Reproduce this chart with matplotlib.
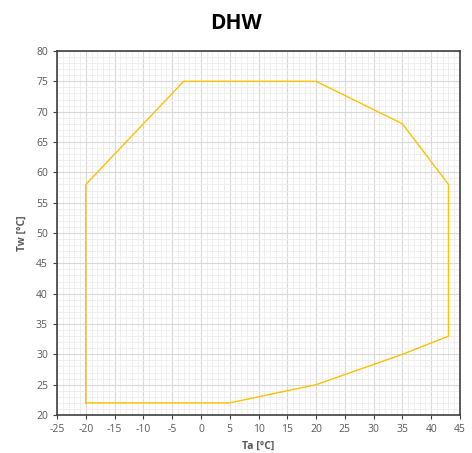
import matplotlib
matplotlib.use("Agg")
import matplotlib.pyplot as plt
from matplotlib.ticker import MultipleLocator

ta = [-20, 5, 20, 35, 43, 43, 35, 20, -3, -20, -20]
tw = [22, 22, 25, 30, 33, 58, 68, 75, 75, 58, 22]

plt.rcParams['font.family'] = ['Open Sans', 'DejaVu Sans']
plt.rcParams['axes.unicode_minus'] = False
fig = plt.figure(figsize=(4.72, 4.53), dpi=100)
ax = fig.add_axes([0.1208, 0.0839, 0.9746 - 0.1208, 0.8874 - 0.0839])
ax.plot(ta, tw, color='#FFC000', lw=1.0, zorder=3)
ax.set_xlim(-25, 45)
ax.set_ylim(20, 80)
ax.xaxis.set_major_locator(MultipleLocator(5))
ax.yaxis.set_major_locator(MultipleLocator(5))
ax.xaxis.set_minor_locator(MultipleLocator(1))
ax.yaxis.set_minor_locator(MultipleLocator(1))
ax.grid(which='major', color='#D9D9D9', lw=0.8, zorder=0)
ax.grid(which='minor', color='#EDEDED', lw=0.6, zorder=0)
ax.set_axisbelow(True)
ax.tick_params(which='major', direction='out', length=3, width=0.8, color='#404040',
               labelsize=7.5, labelcolor='#595959')
ax.tick_params(which='minor', length=0)
for s in ax.spines.values():
    s.set_color('#404040')
    s.set_linewidth(1.2)
ax.set_xlabel('Ta [°C]', fontsize=7.5, fontweight='bold', color='#595959', labelpad=4)
ax.set_ylabel('Tw [°C]', fontsize=7.5, fontweight='bold', color='#595959', labelpad=6)
fig.suptitle('DHW', x=0.5, y=0.972, fontsize=15, fontweight='bold', color='#000000')
fig.savefig('out.png', dpi=100)
